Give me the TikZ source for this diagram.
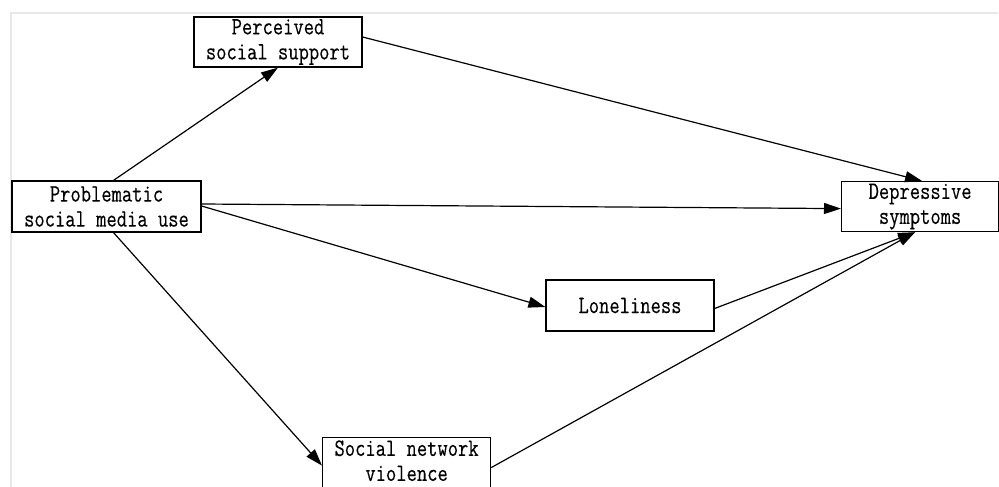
\documentclass[tikz,border=0pt]{standalone}
\usepackage{fontspec}
\newfontfamily\diagfont[FakeStretch=0.8,FakeBold=0.3]{Latin Modern Mono}
\usetikzlibrary{arrows.meta}
\begin{document}
\begin{tikzpicture}[x=1pt,y=1pt,
  box/.style={draw=black, line width=1.2pt, fill=white, inner sep=0pt, align=center,
    font=\diagfont\fontsize{25}{25}\selectfont},
  arr/.style={line width=1.2pt, -{Triangle[length=17pt,width=11pt]}},
  frame/.style={draw=black!9, line width=1.5pt}]
\useasboundingbox (0,0) rectangle (999,-487);
\draw[frame] (998,-13) -- (11,-13) -- (11,-487);
\node[box, minimum width=168pt, minimum height=50pt] (pss) at (278,-42) {Perceived\\social support};
\node[box, minimum width=189pt, minimum height=51pt] (psmu) at (106.5,-206.5) {Problematic\\social media use};
\node[box, minimum width=157pt, minimum height=50pt, anchor=north west] (dep) at (841,-181) {Depressive\\symptoms};
\node[box, minimum width=168pt, minimum height=51pt] (lon) at (630,-305.5) {Loneliness};
\node[box, minimum width=168pt, minimum height=54pt, anchor=north west] (snv) at (322,-437) {Social network\\violence\rule[-8pt]{0pt}{0pt}};
\draw[arr] ([xshift=7pt]psmu.north) -- (pss.south);
\draw[arr] ([yshift=5pt]pss.east) -- ([xshift=2pt]dep.north);
\draw[arr] ([yshift=2.5pt]psmu.east) -- ([yshift=-2pt]dep.west);
\draw[arr] ([yshift=0.5pt]psmu.east) -- ([yshift=-1.5pt]lon.west);
\draw[arr] ([xshift=7pt]psmu.south) -- ([yshift=-1pt]snv.west);
\draw[arr] ([yshift=-3pt]lon.east) -- ([xshift=-5pt]dep.south);
\draw[arr] ([yshift=-3pt]snv.east) -- ([xshift=-5pt]dep.south);
\end{tikzpicture}
\end{document}
